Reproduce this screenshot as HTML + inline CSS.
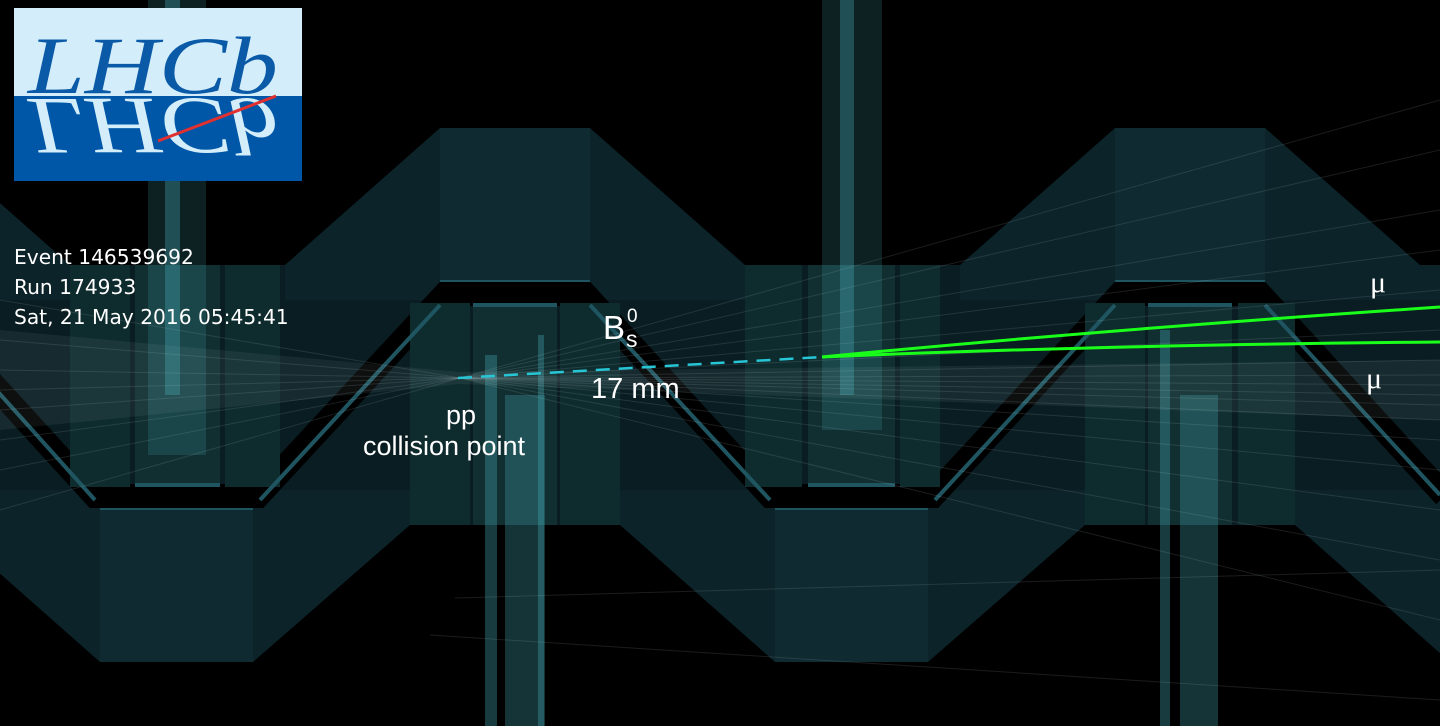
<!DOCTYPE html>
<html><head><meta charset="utf-8"><style>
html,body{margin:0;padding:0;background:#000;}
svg{display:block}
</style></head><body>
<svg width="1440" height="726" viewBox="0 0 1440 726" xmlns="http://www.w3.org/2000/svg">
<rect width="1440" height="726" fill="#000"/>
<rect x="0" y="265" width="1440" height="260" fill="#0a1d22"/>
<g fill="#0c2329">
<polygon points="-390,265 -235,128 -85,128 70,265 70,300 -390,300"/>
<polygon points="285,265 440,128 590,128 745,265 745,300 285,300"/>
<polygon points="960,265 1115,128 1265,128 1420,265 1440,265 1440,300 960,300"/>
<polygon points="-55,525 100,662 253,662 410,525 410,490 -55,490"/>
<polygon points="620,525 775,662 928,662 1085,525 1085,490 620,490"/>
<polygon points="1295,525 1450,662 1600,662 1600,490 1295,490"/>
</g>
<g fill="#0f2a31">
<rect x="440" y="128" width="150" height="157"/>
<rect x="1115" y="128" width="150" height="157"/>
<rect x="100" y="505" width="153" height="157"/>
<rect x="775" y="505" width="153" height="157"/>
</g>
<g fill="#1f5560">
<rect x="440" y="280" width="150" height="5"/>
<rect x="1115" y="280" width="150" height="5"/>
<rect x="100" y="505" width="153" height="5"/>
<rect x="775" y="505" width="153" height="5"/>
</g>
<polyline points="-90,293 95,496 258,496 445,294 585,294 770,496 933,496 1120,294 1260,294 1445,496" fill="none" stroke="#000" stroke-width="24"/>
<g fill="#0e2b2e">
<rect x="410" y="303" width="60" height="222"/>
<rect x="473" y="303" width="84" height="222" fill="#112f31"/>
<rect x="560" y="303" width="60" height="222"/>
<rect x="1085" y="303" width="60" height="222"/>
<rect x="1148" y="303" width="84" height="222" fill="#112f31"/>
<rect x="1238" y="303" width="57" height="222"/>
<rect x="70" y="265" width="60" height="222"/>
<rect x="135" y="265" width="85" height="222" fill="#112f31"/>
<rect x="225" y="265" width="55" height="222"/>
<rect x="745" y="265" width="57" height="222"/>
<rect x="808" y="265" width="87" height="222" fill="#112f31"/>
<rect x="900" y="265" width="40" height="222"/>
</g>
<g stroke="#1f5560" stroke-width="4" fill="none">
<line x1="260" y1="500" x2="440" y2="305"/>
<line x1="590" y1="305" x2="770" y2="500"/>
<line x1="935" y1="500" x2="1115" y2="305"/>
<line x1="1265" y1="305" x2="1440" y2="495"/>
<line x1="95" y1="500" x2="-80" y2="305"/>
<line x1="473" y1="305" x2="557" y2="305"/>
<line x1="1148" y1="305" x2="1232" y2="305"/>
<line x1="135" y1="485" x2="220" y2="485"/>
<line x1="808" y1="485" x2="895" y2="485"/>
</g>
<g>
<rect x="148" y="0" width="58" height="455" fill="rgba(60,150,160,0.22)"/>
<rect x="165" y="0" width="15" height="395" fill="rgba(70,170,180,0.35)"/>
<rect x="822" y="0" width="60" height="430" fill="rgba(60,150,160,0.22)"/>
<rect x="840" y="0" width="14" height="395" fill="rgba(70,170,180,0.35)"/>
<rect x="485" y="355" width="12" height="371" fill="rgba(70,170,180,0.35)"/>
<rect x="505" y="395" width="40" height="331" fill="rgba(60,150,160,0.35)"/>
<rect x="538" y="335" width="6" height="391" fill="rgba(70,170,180,0.35)"/>
<rect x="1160" y="330" width="10" height="396" fill="rgba(70,170,180,0.35)"/>
<rect x="1180" y="395" width="38" height="331" fill="rgba(60,150,160,0.35)"/>
</g>
<g stroke="rgba(200,220,225,0.13)" stroke-width="1">
<line x1="460" y1="378" x2="1440" y2="100"/><line x1="460" y1="378" x2="1440" y2="150"/>
<line x1="460" y1="378" x2="1440" y2="210"/><line x1="460" y1="378" x2="1440" y2="250"/>
<line x1="460" y1="378" x2="1440" y2="290"/><line x1="460" y1="378" x2="1440" y2="330"/>
<line x1="460" y1="378" x2="1440" y2="360"/><line x1="460" y1="378" x2="1440" y2="375"/>
<line x1="460" y1="378" x2="1440" y2="385"/><line x1="460" y1="378" x2="1440" y2="395"/>
<line x1="460" y1="378" x2="1440" y2="405"/><line x1="460" y1="378" x2="1440" y2="420"/>
<line x1="460" y1="378" x2="1440" y2="440"/><line x1="460" y1="378" x2="1440" y2="470"/>
<line x1="460" y1="378" x2="1440" y2="510"/><line x1="460" y1="378" x2="1440" y2="560"/>
<line x1="460" y1="378" x2="1440" y2="620"/><line x1="430" y1="635" x2="1440" y2="700"/>
<line x1="455" y1="598" x2="1440" y2="570"/>
<line x1="460" y1="378" x2="0" y2="300"/><line x1="460" y1="378" x2="0" y2="340"/>
<line x1="460" y1="378" x2="0" y2="370"/><line x1="460" y1="378" x2="0" y2="390"/>
<line x1="460" y1="378" x2="0" y2="410"/><line x1="460" y1="378" x2="0" y2="440"/>
<line x1="460" y1="378" x2="0" y2="470"/><line x1="460" y1="378" x2="0" y2="510"/>
</g>
<polygon points="460,372 1440,360 1440,420 460,384" fill="rgba(200,220,225,0.07)"/>
<polygon points="460,372 0,330 0,430 460,384" fill="rgba(200,220,225,0.07)"/>
<line x1="458" y1="378" x2="822" y2="357" stroke="#27c6d6" stroke-width="2.5" stroke-dasharray="14,9"/>
<path d="M822,357 Q1100,330 1440,307" stroke="#1aff1a" stroke-width="3" fill="none"/>
<path d="M822,357 Q1100,345 1440,342" stroke="#1aff1a" stroke-width="3" fill="none"/>
<g fill="#fff" font-family="'Liberation Sans',sans-serif">
<text x="603" y="339" font-size="33">B</text>
<text x="627" y="322" font-size="19">0</text>
<text x="626" y="347" font-size="23">s</text>
<text x="591" y="398" font-size="29">17 mm</text>
<text x="461" y="424" font-size="27" text-anchor="middle">pp</text>
<text x="444" y="455" font-size="27" text-anchor="middle">collision point</text>
<text x="1370" y="292" font-size="30" font-family="'Liberation Serif',serif">μ</text>
<text x="1366" y="388" font-size="30" font-family="'Liberation Serif',serif">μ</text>
</g>
<g fill="#fff" font-family="'DejaVu Sans',sans-serif" font-size="20.2">
<text x="14" y="264">Event 146539692</text>
<text x="14" y="294">Run 174933</text>
<text x="14" y="324">Sat, 21 May 2016 05:45:41</text>
</g>
<rect x="14" y="8" width="288" height="88" fill="#d3eefa"/>
<rect x="14" y="96" width="288" height="85" fill="#0057a8"/>
<text x="28" y="93" font-family="'Liberation Serif',serif" font-style="italic" font-size="82" fill="#0a5aa8" textLength="250" lengthAdjust="spacingAndGlyphs">LHCb</text>
<text x="28" y="-99" transform="scale(1,-1)" font-family="'Liberation Serif',serif" font-style="italic" font-size="82" fill="#d3eefa" textLength="250" lengthAdjust="spacingAndGlyphs">LHCb</text>
<line x1="158" y1="141" x2="276" y2="96" stroke="#e03030" stroke-width="3"/>
</svg>
</body></html>
